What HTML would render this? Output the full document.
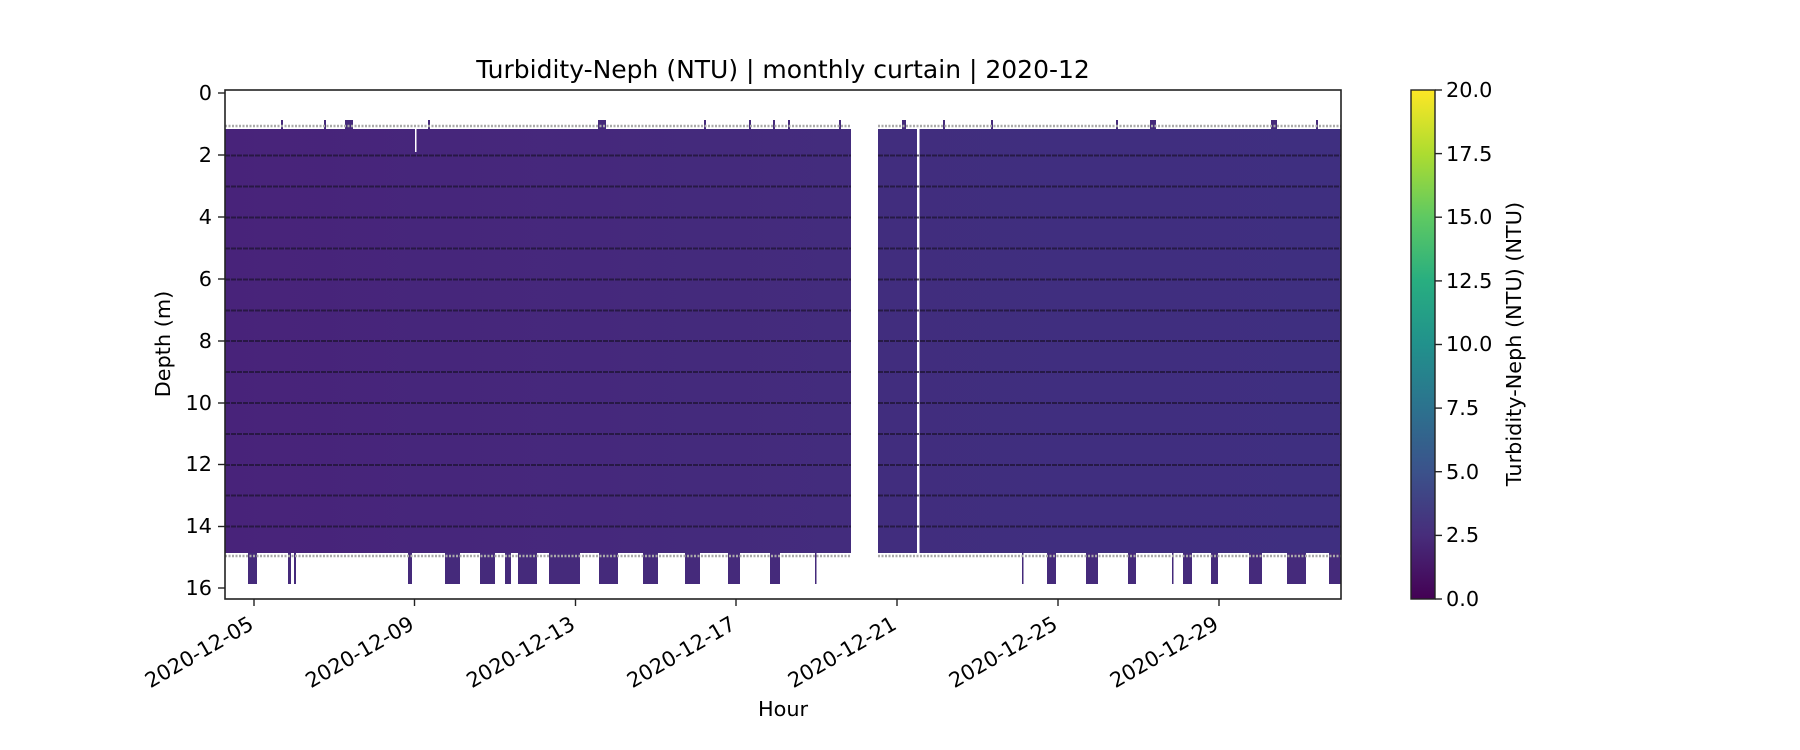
<!DOCTYPE html>
<html><head><meta charset="utf-8"><style>
html,body{margin:0;padding:0;background:#fff;}
svg{display:block;font-family:"DejaVu Sans","Liberation Sans",sans-serif;}
</style></head><body>
<svg width="1800" height="750" viewBox="0 0 1800 750" xmlns="http://www.w3.org/2000/svg">
<defs>
<linearGradient id="fillL" x1="0" x2="1" y1="0" y2="0">
<stop offset="0" stop-color="#48237a"/><stop offset="1" stop-color="#432c7d"/>
</linearGradient>
<linearGradient id="fillR" x1="0" x2="1" y1="0" y2="0">
<stop offset="0" stop-color="#412d7e"/><stop offset="1" stop-color="#3f2f80"/>
</linearGradient>
<linearGradient id="vir" x1="0" x2="0" y1="1" y2="0">
<stop offset="0" stop-color="#440154"/><stop offset="0.125" stop-color="#472d7b"/>
<stop offset="0.25" stop-color="#3b528b"/><stop offset="0.375" stop-color="#2c728e"/>
<stop offset="0.5" stop-color="#21918c"/><stop offset="0.625" stop-color="#28ae80"/>
<stop offset="0.75" stop-color="#5ec962"/><stop offset="0.875" stop-color="#addc30"/>
<stop offset="1" stop-color="#fde725"/>
</linearGradient>
</defs>
<text x="783" y="78" font-size="25" text-anchor="middle">Turbidity-Neph (NTU) | monthly curtain | 2020-12</text>
<g fill="#452a7b">
<rect x="225" y="129" width="626" height="424" fill="url(#fillL)"/>
<rect x="878" y="129" width="463" height="424" fill="url(#fillR)"/>
<rect x="248" y="553" width="9" height="31"/><rect x="288" y="553" width="3" height="31"/><rect x="294" y="553" width="2" height="31"/>
<rect x="408" y="553" width="4" height="31"/><rect x="445" y="553" width="15" height="31"/><rect x="480" y="553" width="15" height="31"/>
<rect x="505" y="553" width="6" height="31"/><rect x="518" y="553" width="19" height="31"/><rect x="549" y="553" width="31" height="31"/>
<rect x="599" y="553" width="19" height="31"/><rect x="643" y="553" width="15" height="31"/><rect x="685" y="553" width="15" height="31"/>
<rect x="728" y="553" width="12" height="31"/><rect x="770" y="553" width="10" height="31"/><rect x="815" y="553" width="1.5" height="31"/>
<rect x="1022" y="553" width="1.5" height="31"/><rect x="1047" y="553" width="9" height="31"/><rect x="1086" y="553" width="12" height="31"/>
<rect x="1128" y="553" width="8" height="31"/><rect x="1172" y="553" width="1.5" height="31"/><rect x="1183" y="553" width="9" height="31"/>
<rect x="1211" y="553" width="7" height="31"/><rect x="1249" y="553" width="13" height="31"/><rect x="1287" y="553" width="19" height="31"/>
<rect x="1329" y="553" width="12" height="31"/>
<rect x="281" y="120" width="2" height="9"/><rect x="324" y="120" width="2" height="9"/><rect x="345" y="120" width="8" height="9"/>
<rect x="428" y="120" width="2" height="9"/><rect x="598" y="120" width="8" height="9"/><rect x="704" y="120" width="2" height="9"/>
<rect x="749" y="120" width="2" height="9"/><rect x="773" y="120" width="2" height="9"/><rect x="788" y="120" width="2" height="9"/>
<rect x="839" y="120" width="2" height="9"/><rect x="902" y="120" width="4" height="9"/><rect x="943" y="120" width="2" height="9"/>
<rect x="991" y="120" width="2" height="9"/><rect x="1116" y="120" width="2" height="9"/><rect x="1150" y="120" width="6" height="9"/>
<rect x="1271" y="120" width="6" height="9"/><rect x="1316" y="120" width="2" height="9"/>
</g>
<rect x="917" y="129" width="2.5" height="424" fill="#fff"/>
<rect x="415" y="129" width="1.5" height="23" fill="#fff"/>
<g stroke="#aaa" stroke-width="2.5" stroke-dasharray="2,1.5">
<line x1="225" y1="126" x2="851" y2="126"/><line x1="878" y1="126" x2="1341" y2="126"/>
<line x1="225" y1="556" x2="851" y2="556"/><line x1="878" y1="556" x2="1341" y2="556"/>
</g>
<g stroke="#1e1433" stroke-width="2" stroke-opacity="0.75" stroke-dasharray="5,1">
<line x1="225" y1="155.5" x2="851" y2="155.5"/><line x1="878" y1="155.5" x2="1341" y2="155.5"/>
<line x1="225" y1="186.5" x2="851" y2="186.5"/><line x1="878" y1="186.5" x2="1341" y2="186.5"/>
<line x1="225" y1="217.5" x2="851" y2="217.5"/><line x1="878" y1="217.5" x2="1341" y2="217.5"/>
<line x1="225" y1="248.5" x2="851" y2="248.5"/><line x1="878" y1="248.5" x2="1341" y2="248.5"/>
<line x1="225" y1="279.5" x2="851" y2="279.5"/><line x1="878" y1="279.5" x2="1341" y2="279.5"/>
<line x1="225" y1="310.5" x2="851" y2="310.5"/><line x1="878" y1="310.5" x2="1341" y2="310.5"/>
<line x1="225" y1="341" x2="851" y2="341"/><line x1="878" y1="341" x2="1341" y2="341"/>
<line x1="225" y1="372" x2="851" y2="372"/><line x1="878" y1="372" x2="1341" y2="372"/>
<line x1="225" y1="403" x2="851" y2="403"/><line x1="878" y1="403" x2="1341" y2="403"/>
<line x1="225" y1="434" x2="851" y2="434"/><line x1="878" y1="434" x2="1341" y2="434"/>
<line x1="225" y1="465" x2="851" y2="465"/><line x1="878" y1="465" x2="1341" y2="465"/>
<line x1="225" y1="495.5" x2="851" y2="495.5"/><line x1="878" y1="495.5" x2="1341" y2="495.5"/>
<line x1="225" y1="526.5" x2="851" y2="526.5"/><line x1="878" y1="526.5" x2="1341" y2="526.5"/>
</g>
<rect x="225" y="90" width="1116" height="509" fill="none" stroke="#222" stroke-width="1.6"/>
<g stroke="#222" stroke-width="1.4">
<line x1="218" y1="93" x2="225" y2="93"/><line x1="218" y1="155" x2="225" y2="155"/>
<line x1="218" y1="217" x2="225" y2="217"/><line x1="218" y1="279" x2="225" y2="279"/>
<line x1="218" y1="341" x2="225" y2="341"/><line x1="218" y1="403" x2="225" y2="403"/>
<line x1="218" y1="464.5" x2="225" y2="464.5"/><line x1="218" y1="526.5" x2="225" y2="526.5"/>
<line x1="218" y1="588" x2="225" y2="588"/>
<line x1="254" y1="599" x2="254" y2="606"/><line x1="414.5" y1="599" x2="414.5" y2="606"/>
<line x1="575.5" y1="599" x2="575.5" y2="606"/><line x1="736" y1="599" x2="736" y2="606"/>
<line x1="897" y1="599" x2="897" y2="606"/><line x1="1058" y1="599" x2="1058" y2="606"/>
<line x1="1219" y1="599" x2="1219" y2="606"/>
</g>
<g font-size="20.8" text-anchor="end">
<text x="212" y="100">0</text><text x="212" y="162">2</text><text x="212" y="224">4</text>
<text x="212" y="286">6</text><text x="212" y="348">8</text><text x="212" y="410">10</text>
<text x="212" y="471">12</text><text x="212" y="533">14</text><text x="212" y="595">16</text>
</g>
<g font-size="20.8" text-anchor="end">
<text transform="translate(255,628) rotate(-30)">2020-12-05</text>
<text transform="translate(415.5,628) rotate(-30)">2020-12-09</text>
<text transform="translate(576.5,628) rotate(-30)">2020-12-13</text>
<text transform="translate(737,628) rotate(-30)">2020-12-17</text>
<text transform="translate(898,628) rotate(-30)">2020-12-21</text>
<text transform="translate(1059,628) rotate(-30)">2020-12-25</text>
<text transform="translate(1220,628) rotate(-30)">2020-12-29</text>
</g>
<text x="783" y="716" font-size="20.8" text-anchor="middle">Hour</text>
<text transform="translate(170,344) rotate(-90)" font-size="20.8" text-anchor="middle">Depth (m)</text>
<rect x="1411" y="90" width="24" height="509" fill="url(#vir)" stroke="#222" stroke-width="1.4"/>
<g stroke="#222" stroke-width="1.4">
<line x1="1435" y1="599" x2="1442" y2="599"/><line x1="1435" y1="535.4" x2="1442" y2="535.4"/>
<line x1="1435" y1="471.7" x2="1442" y2="471.7"/><line x1="1435" y1="408.1" x2="1442" y2="408.1"/>
<line x1="1435" y1="344.5" x2="1442" y2="344.5"/><line x1="1435" y1="280.9" x2="1442" y2="280.9"/>
<line x1="1435" y1="217.2" x2="1442" y2="217.2"/><line x1="1435" y1="153.6" x2="1442" y2="153.6"/>
<line x1="1435" y1="90" x2="1442" y2="90"/>
</g>
<g font-size="20.8">
<text x="1446" y="606">0.0</text><text x="1446" y="542">2.5</text><text x="1446" y="479">5.0</text>
<text x="1446" y="415">7.5</text><text x="1446" y="351">10.0</text><text x="1446" y="288">12.5</text>
<text x="1446" y="224">15.0</text><text x="1446" y="161">17.5</text><text x="1446" y="97">20.0</text>
</g>
<text transform="translate(1521,344) rotate(-90)" font-size="20.8" text-anchor="middle">Turbidity-Neph (NTU) (NTU)</text>
</svg>
</body></html>
